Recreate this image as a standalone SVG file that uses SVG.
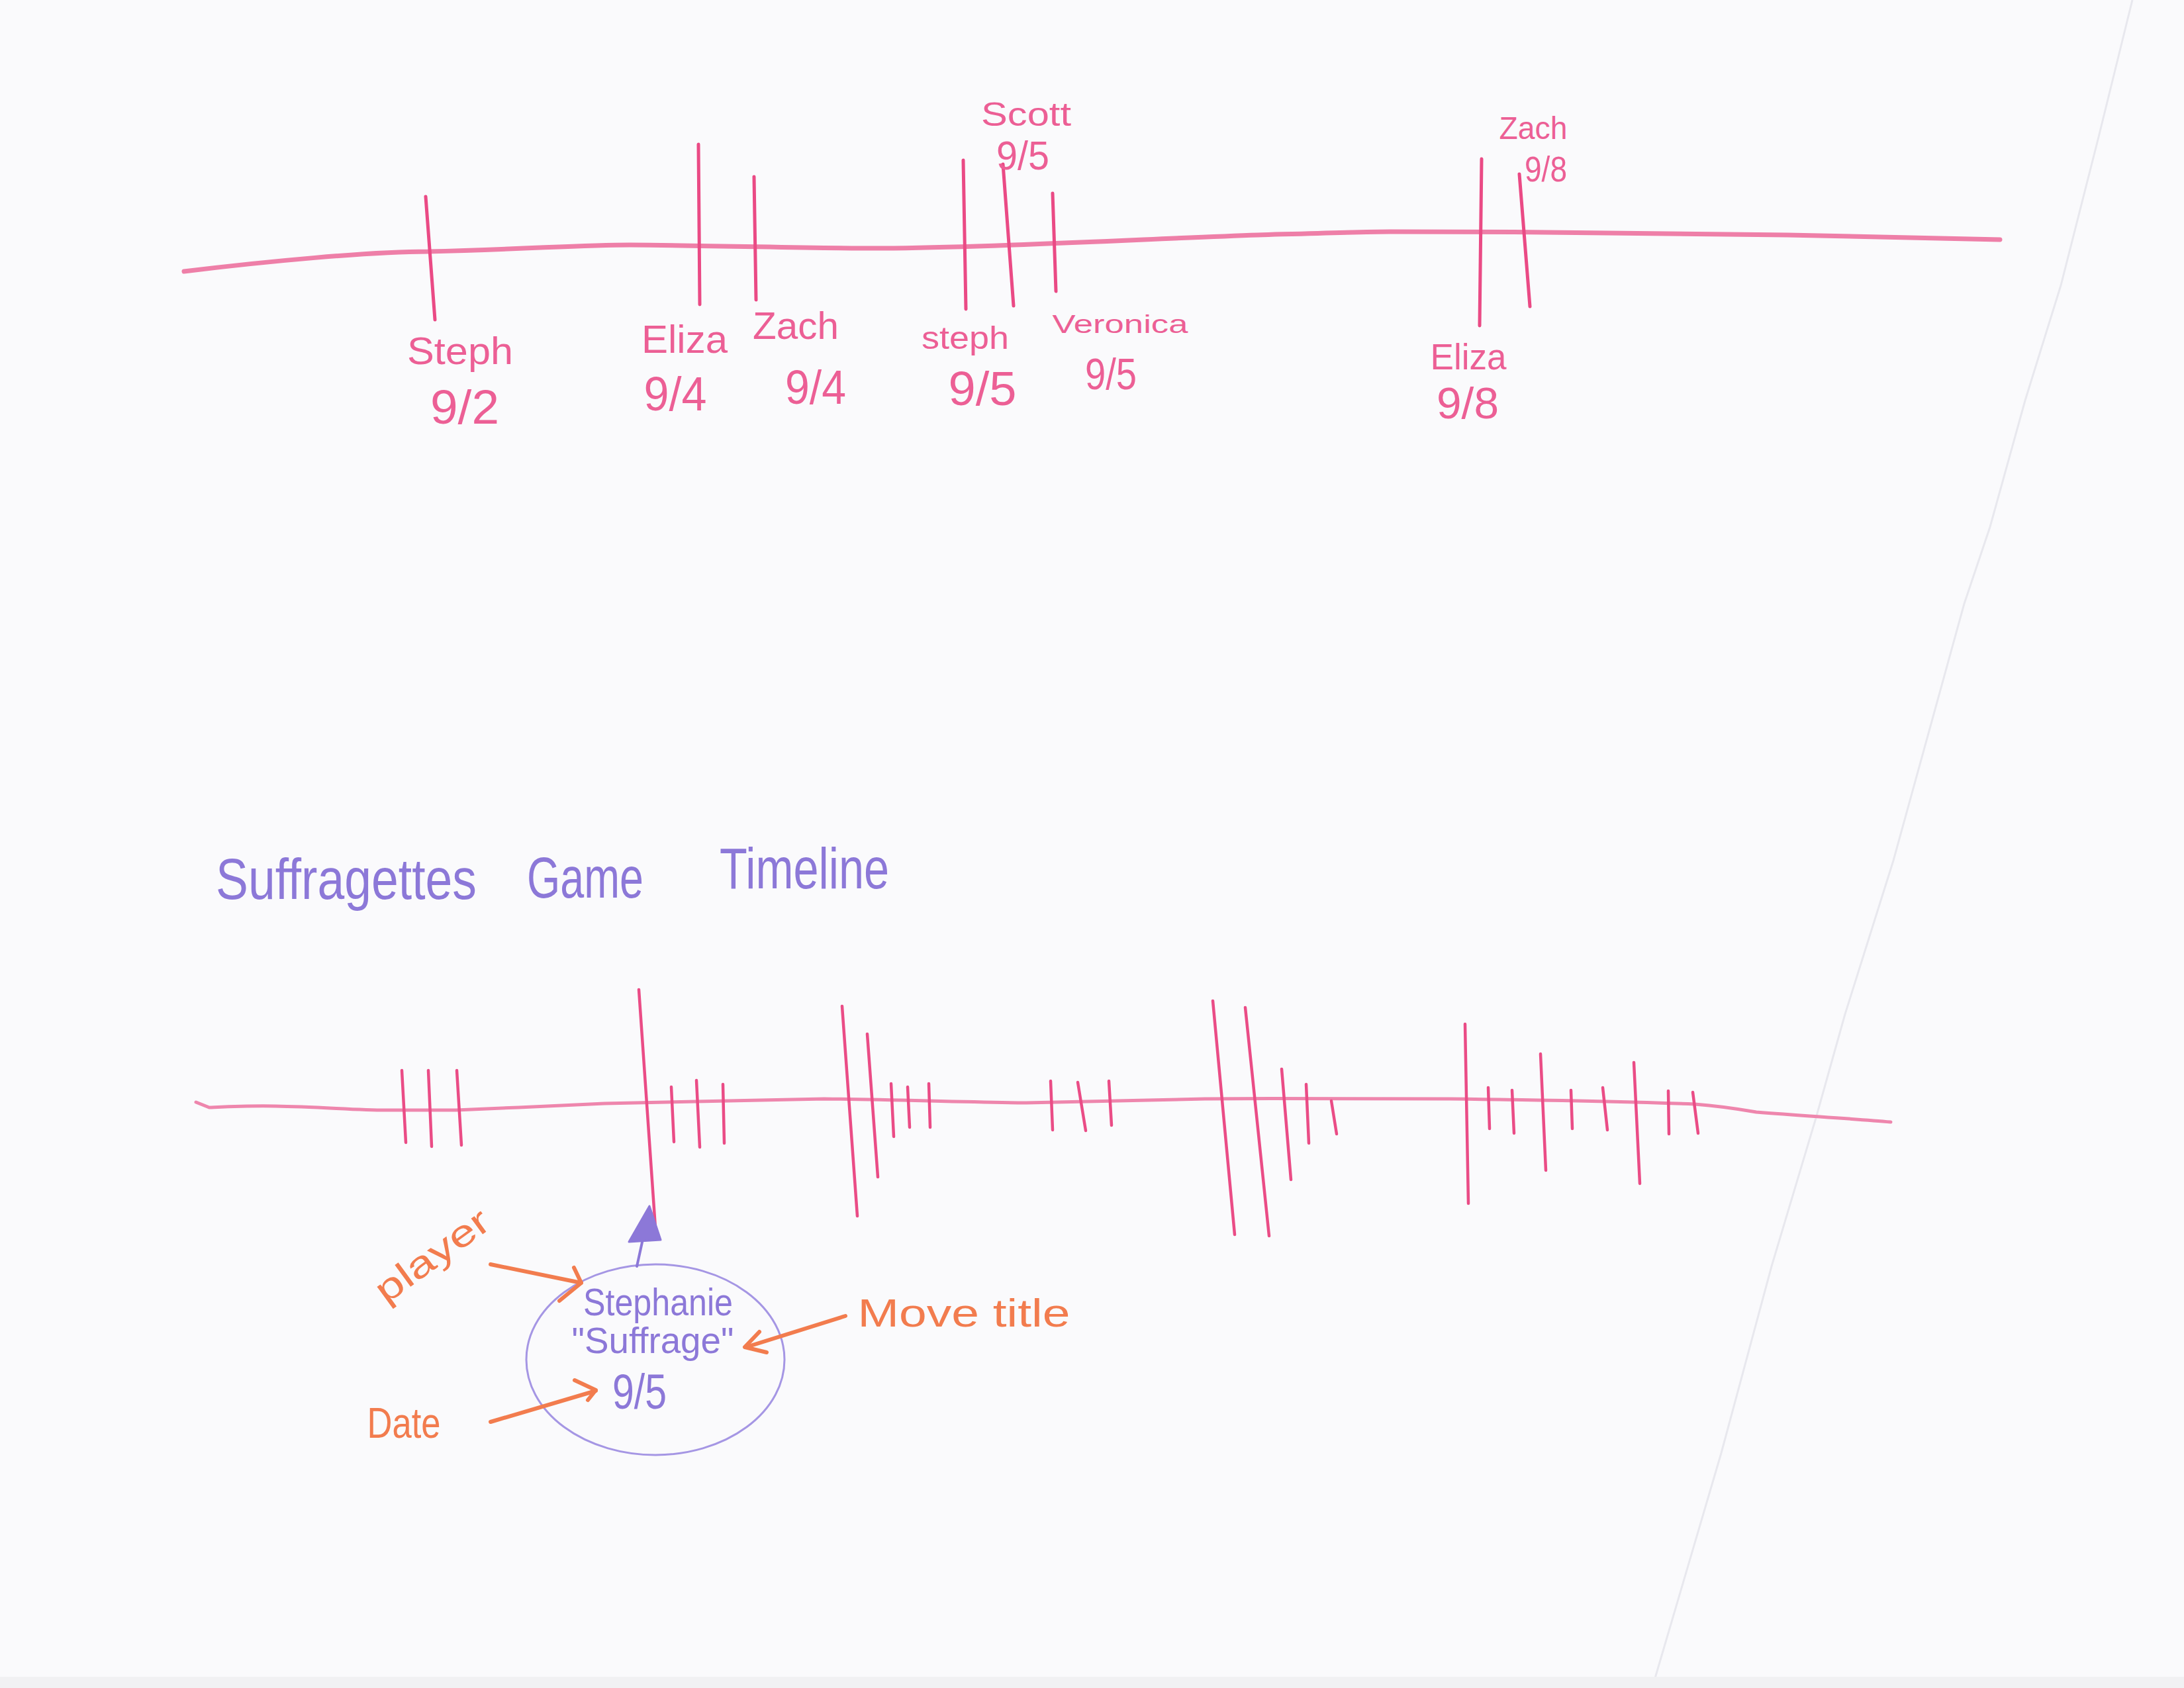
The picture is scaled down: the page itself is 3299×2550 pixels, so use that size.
<svg xmlns="http://www.w3.org/2000/svg" width="3299" height="2550" viewBox="0 0 3299 2550">
<defs>
<style>
.paper{fill:#fafafc}
.axis{fill:none;stroke:#ee7fa8;stroke-width:7;stroke-linecap:round;stroke-linejoin:round}
.axis2{fill:none;stroke:#ee86ad;stroke-width:5;stroke-linecap:round;stroke-linejoin:round}
.tick{stroke:#ea4a85;stroke-width:5;stroke-linecap:round}
.tick2{stroke:#ea4c86;stroke-width:4.5;stroke-linecap:round}
.pink{fill:#ec5f95;font-family:"Liberation Sans",Arial,sans-serif;text-anchor:middle}
.purple{fill:#8c78d8;font-family:"Liberation Sans",Arial,sans-serif;text-anchor:middle}
.orange{fill:#f27c4e;font-family:"Liberation Sans",Arial,sans-serif;text-anchor:middle}
.oarrow{fill:none;stroke:#f27c4e;stroke-width:6;stroke-linecap:round;stroke-linejoin:round}
.parrow{fill:none;stroke:#8c78d8;stroke-width:4;stroke-linecap:round}
.node{fill:none;stroke:#a596e4;stroke-width:3}
.crease{fill:none;stroke:#e8e8ee;stroke-width:3}
</style>
</defs>
<rect class="paper" x="0" y="0" width="3299" height="2550"/>
<path class="crease" d="M3221,0 L3170,207 L3113,431 L3059,605 L3006,796 L2967,912 L2860,1300 L2787,1532 L2743,1689 L2676,1913 L2600,2195 L2500,2535"/>
<rect x="0" y="2533" width="3299" height="17" fill="#f1f1f3"/>

<g id="top-timeline">
<path class="axis" d="M278,410 C400,395 560,380 646,380 C800,376 880,370 951,370 C1100,371 1250,376 1350,375 C1550,372 1750,360 1900,355 C2000,352 2060,350 2100,350 C2300,350 2550,352 2700,355 C2850,358 2950,360 3021,362"/>
<g id="ev-steph-92"><line class="tick" x1="643" y1="297" x2="657" y2="483"/>
<text class="pink" x="695" y="550" font-size="58" textLength="160" lengthAdjust="spacingAndGlyphs">Steph</text>
<text class="pink" x="702" y="640" font-size="72" textLength="104" lengthAdjust="spacingAndGlyphs">9/2</text></g>
<g id="ev-eliza-94"><line class="tick" x1="1055" y1="218" x2="1057" y2="460"/>
<text class="pink" x="1034" y="533" font-size="60" textLength="130" lengthAdjust="spacingAndGlyphs">Eliza</text>
<text class="pink" x="1020" y="620" font-size="72" textLength="95" lengthAdjust="spacingAndGlyphs">9/4</text></g>
<g id="ev-zach-94"><line class="tick" x1="1139" y1="267" x2="1142" y2="453"/>
<text class="pink" x="1202" y="512" font-size="58" textLength="130" lengthAdjust="spacingAndGlyphs">Zach</text>
<text class="pink" x="1232" y="610" font-size="72" textLength="92" lengthAdjust="spacingAndGlyphs">9/4</text></g>
<g id="ev-steph-95"><line class="tick" x1="1455" y1="242" x2="1459" y2="467"/>
<text class="pink" x="1458" y="527" font-size="48" textLength="132" lengthAdjust="spacingAndGlyphs">steph</text>
<text class="pink" x="1484" y="612" font-size="72" textLength="103" lengthAdjust="spacingAndGlyphs">9/5</text></g>
<g id="ev-scott-95"><line class="tick" x1="1515" y1="248" x2="1531" y2="462"/>
<text class="pink" x="1550" y="190" font-size="50" textLength="136" lengthAdjust="spacingAndGlyphs">Scott</text>
<text class="pink" x="1545" y="256" font-size="62" textLength="80" lengthAdjust="spacingAndGlyphs">9/5</text></g>
<g id="ev-veronica-95"><line class="tick" x1="1590" y1="292" x2="1595" y2="440"/>
<text class="pink" x="1692" y="503" font-size="38" textLength="205" lengthAdjust="spacingAndGlyphs">Veronica</text>
<text class="pink" x="1678" y="588" font-size="66" textLength="78" lengthAdjust="spacingAndGlyphs">9/5</text></g>
<g id="ev-eliza-98"><line class="tick" x1="2238" y1="240" x2="2235" y2="492"/>
<text class="pink" x="2218" y="558" font-size="56" textLength="115" lengthAdjust="spacingAndGlyphs">Eliza</text>
<text class="pink" x="2217" y="632" font-size="66" textLength="94" lengthAdjust="spacingAndGlyphs">9/8</text></g>
<g id="ev-zach-98"><line class="tick" x1="2295" y1="263" x2="2311" y2="463"/>
<text class="pink" x="2316" y="210" font-size="48" textLength="103" lengthAdjust="spacingAndGlyphs">Zach</text>
<text class="pink" x="2335" y="274" font-size="54" textLength="64" lengthAdjust="spacingAndGlyphs">9/8</text></g>
</g>

<g id="title">
<text class="purple" x="523" y="1358" font-size="88" textLength="394" lengthAdjust="spacingAndGlyphs">Suffragettes</text>
<text class="purple" x="884" y="1356" font-size="88" textLength="176" lengthAdjust="spacingAndGlyphs">Game</text>
<text class="purple" x="1215" y="1342" font-size="88" textLength="256" lengthAdjust="spacingAndGlyphs">Timeline</text>
</g>

<g id="bottom-timeline">
<path class="axis2" d="M296,1665 L316,1673 C340,1672 380,1670 416,1671 C480,1672 540,1677 582,1677 L689,1677 C760,1674 850,1670 913,1667 C1050,1664 1150,1661 1245,1660 C1350,1661 1450,1665 1550,1666 C1650,1664 1750,1661 1820,1660 C1950,1659 2100,1659 2190,1660 C2350,1662 2480,1665 2560,1668 C2600,1671 2630,1676 2653,1680 C2730,1686 2800,1690 2856,1695"/>
<line class="tick2" x1="607" y1="1617" x2="613" y2="1726"/>
<line class="tick2" x1="647" y1="1617" x2="652" y2="1732"/>
<line class="tick2" x1="690" y1="1617" x2="697" y2="1730"/>
<line class="tick2" x1="965" y1="1495" x2="990" y2="1855"/>
<line class="tick2" x1="1014" y1="1642" x2="1018" y2="1725"/>
<line class="tick2" x1="1052" y1="1632" x2="1057" y2="1733"/>
<line class="tick2" x1="1092" y1="1638" x2="1094" y2="1727"/>
<line class="tick2" x1="1272" y1="1520" x2="1295" y2="1837"/>
<line class="tick2" x1="1310" y1="1562" x2="1326" y2="1778"/>
<line class="tick2" x1="1346" y1="1637" x2="1350" y2="1717"/>
<line class="tick2" x1="1371" y1="1642" x2="1374" y2="1703"/>
<line class="tick2" x1="1403" y1="1637" x2="1405" y2="1703"/>
<line class="tick2" x1="1587" y1="1633" x2="1590" y2="1707"/>
<line class="tick2" x1="1628" y1="1635" x2="1640" y2="1708"/>
<line class="tick2" x1="1675" y1="1633" x2="1679" y2="1700"/>
<line class="tick2" x1="1832" y1="1512" x2="1865" y2="1865"/>
<line class="tick2" x1="1881" y1="1522" x2="1917" y2="1867"/>
<line class="tick2" x1="1936" y1="1615" x2="1950" y2="1782"/>
<line class="tick2" x1="1973" y1="1638" x2="1977" y2="1727"/>
<line class="tick2" x1="2011" y1="1663" x2="2019" y2="1713"/>
<line class="tick2" x1="2213" y1="1547" x2="2218" y2="1818"/>
<line class="tick2" x1="2248" y1="1643" x2="2250" y2="1705"/>
<line class="tick2" x1="2284" y1="1647" x2="2287" y2="1712"/>
<line class="tick2" x1="2327" y1="1592" x2="2335" y2="1768"/>
<line class="tick2" x1="2373" y1="1647" x2="2375" y2="1705"/>
<line class="tick2" x1="2421" y1="1643" x2="2428" y2="1707"/>
<line class="tick2" x1="2468" y1="1605" x2="2477" y2="1788"/>
<line class="tick2" x1="2520" y1="1648" x2="2521" y2="1713"/>
<line class="tick2" x1="2557" y1="1650" x2="2565" y2="1712"/>
</g>

<g id="move-node">
<ellipse class="node" cx="990" cy="2054" rx="195" ry="144"/>
<text class="purple" x="994" y="1987" font-size="58" textLength="226" lengthAdjust="spacingAndGlyphs">Stephanie</text>
<text class="purple" x="986" y="2044" font-size="56" textLength="245" lengthAdjust="spacingAndGlyphs">"Suffrage"</text>
<text class="purple" x="966" y="2128" font-size="74" textLength="82" lengthAdjust="spacingAndGlyphs">9/5</text>
</g>

<g id="label-player"><text class="orange" font-size="56" transform="translate(664,1912) rotate(-36)" x="0" y="0" textLength="200" lengthAdjust="spacingAndGlyphs">player</text></g>
<g id="label-move-title"><text class="orange" x="1456" y="2004" font-size="60" textLength="321" lengthAdjust="spacingAndGlyphs">Move title</text></g>
<g id="label-date"><text class="orange" x="610" y="2172" font-size="64" textLength="111" lengthAdjust="spacingAndGlyphs">Date</text></g>

<g id="connectors">
<path class="parrow" d="M962,1913 L971,1872"/>
<polygon points="981,1822 950,1876 998,1873" fill="#8c78d8" stroke="#8c78d8" stroke-width="3" stroke-linejoin="round"/>
<path class="oarrow" d="M741,1910 L878,1938"/>
<path class="oarrow" d="M867,1915 L878,1938 L845,1965"/>
<path class="oarrow" d="M1277,1988 L1127,2035"/>
<path class="oarrow" d="M1147,2012 L1125,2035 L1158,2043"/>
<path class="oarrow" d="M741,2148 L900,2101"/>
<path class="oarrow" d="M868,2085 L900,2100 L888,2115"/>
</g>
</svg>
